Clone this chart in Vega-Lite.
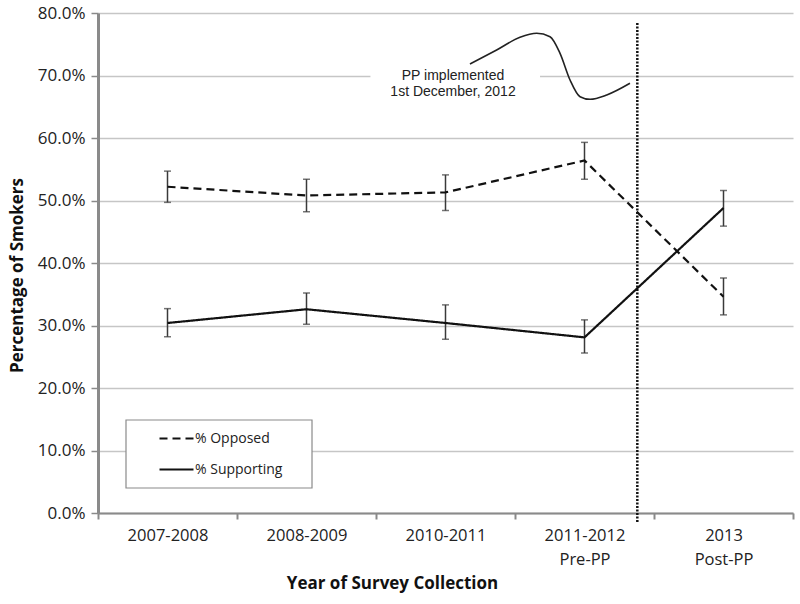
{
  "$schema": "https://vega.github.io/schema/vega-lite/v6.json",
  "width": 695,
  "height": 500,
  "autosize": {"type": "none"},
  "padding": {"left": 98, "top": 13, "right": 7, "bottom": 91},
  "background": "white",
  "config": {
    "view": {"stroke": null},
    "font": "Open Sans",
    "axis": {"labelColor": "#222", "titleColor": "#111"}
  },
  "datasets": {
    "series": [
      {"group": "% Opposed", "period": "2007-2008", "pos": 0.5, "pct": 52.2, "lo": 49.7, "hi": 54.7},
      {"group": "% Opposed", "period": "2008-2009", "pos": 1.5, "pct": 50.8, "lo": 48.2, "hi": 53.4},
      {"group": "% Opposed", "period": "2010-2011", "pos": 2.5, "pct": 51.3, "lo": 48.4, "hi": 54.1},
      {"group": "% Opposed", "period": "2011-2012 Pre-PP", "pos": 3.5, "pct": 56.4, "lo": 53.4, "hi": 59.3},
      {"group": "% Opposed", "period": "2013 Post-PP", "pos": 4.5, "pct": 34.6, "lo": 31.7, "hi": 37.6},
      {"group": "% Supporting", "period": "2007-2008", "pos": 0.5, "pct": 30.4, "lo": 28.2, "hi": 32.7},
      {"group": "% Supporting", "period": "2008-2009", "pos": 1.5, "pct": 32.6, "lo": 30.2, "hi": 35.2},
      {"group": "% Supporting", "period": "2010-2011", "pos": 2.5, "pct": 30.4, "lo": 27.8, "hi": 33.3},
      {"group": "% Supporting", "period": "2011-2012 Pre-PP", "pos": 3.5, "pct": 28.1, "lo": 25.6, "hi": 30.9},
      {"group": "% Supporting", "period": "2013 Post-PP", "pos": 4.5, "pct": 48.8, "lo": 45.9, "hi": 51.6}
    ],
    "legendbox": [{"pos": 0.2014, "pos2": 1.5396, "pct": 4.0, "pct2": 14.88}],
    "notebox": [{"pos": 1.96, "pos2": 3.18, "pct": 66.2, "pct2": 72.5}],
    "cutoff": [{"pos": 3.88, "pct": -1.44, "pct2": 78.56}],
    "curve": [
      {"pos": 2.676, "pct": 71.84},
      {"pos": 2.868, "pct": 74.08},
      {"pos": 3.036, "pct": 76.11},
      {"pos": 3.156, "pct": 76.75},
      {"pos": 3.252, "pct": 76.21},
      {"pos": 3.324, "pct": 73.55},
      {"pos": 3.396, "pct": 69.28},
      {"pos": 3.468, "pct": 66.61},
      {"pos": 3.54, "pct": 66.19},
      {"pos": 3.66, "pct": 66.88},
      {"pos": 3.827, "pct": 68.75}
    ],
    "note": [{"pos": 2.554, "pct": 69.92, "label": ["PP implemented", "1st December, 2012"]}]
  },
  "encoding": {
    "x": {
      "field": "pos",
      "type": "quantitative",
      "title": "Year of Survey Collection",
      "scale": {"domain": [0, 5], "nice": false, "zero": false},
      "axis": {
        "values": [0, 1, 2, 3, 4, 5],
        "labelExpr": "datum.value == 0 ? '2007-2008' : datum.value == 1 ? '2008-2009' : datum.value == 2 ? '2010-2011' : datum.value == 3 ? ['2011-2012', 'Pre-PP'] : datum.value == 4 ? ['2013', 'Post-PP'] : ''",
        "labelOffset": 69.5,
        "labelFlush": false,
        "labelOverlap": false,
        "labelBound": false,
        "labelFontSize": 16.5,
        "labelLineHeight": 24,
        "labelPadding": 8,
        "labelBaseline": "top",
        "grid": false,
        "domainColor": "#8a8a8a",
        "domainWidth": 2,
        "tickColor": "#8a8a8a",
        "tickWidth": 2,
        "tickSize": 6,
        "titleFontSize": 17,
        "titleFontWeight": "bold",
        "titleX": 294,
        "titleY": 70,
        "titleBaseline": "middle",
        "titleAnchor": null
      }
    },
    "y": {
      "field": "pct",
      "type": "quantitative",
      "title": "Percentage of Smokers",
      "scale": {"domain": [0, 80], "nice": false, "zero": true},
      "axis": {
        "values": [0, 10, 20, 30, 40, 50, 60, 70, 80],
        "labelExpr": "format(datum.value, '.1f') + '%'",
        "labelFontSize": 17,
        "labelPadding": 6,
        "grid": true,
        "gridColor": "#c6c6c6",
        "gridWidth": 1.5,
        "domainColor": "#8a8a8a",
        "domainWidth": 3,
        "tickColor": "#8a8a8a",
        "tickWidth": 1.5,
        "tickSize": 7,
        "titleFontSize": 17,
        "titleFontWeight": "bold",
        "titleX": -81,
        "titleY": 262,
        "titleAngle": -90,
        "titleAlign": "center",
        "titleBaseline": "middle"
      }
    }
  },
  "layer": [
    {
      "data": {"name": "legendbox"},
      "mark": {"type": "rect", "fill": "white", "stroke": "#8a8a8a", "strokeWidth": 1.2},
      "encoding": {"x2": {"field": "pos2"}, "y2": {"field": "pct2"}}
    },
    {
      "data": {"name": "notebox"},
      "mark": {"type": "rect", "fill": "white", "stroke": null},
      "encoding": {"x2": {"field": "pos2"}, "y2": {"field": "pct2"}}
    },
    {
      "data": {"name": "series"},
      "mark": {
        "type": "errorbar",
        "ticks": {"size": 7, "thickness": 1.5, "color": "#3a3a3a"},
        "rule": {"strokeWidth": 1.5, "color": "#3a3a3a"}
      },
      "encoding": {
        "y": {"field": "lo", "type": "quantitative", "title": "Percentage of Smokers"},
        "y2": {"field": "hi"}
      }
    },
    {
      "data": {"name": "series"},
      "mark": {"type": "line", "color": "#111", "strokeWidth": 2.2},
      "encoding": {
        "strokeDash": {
          "field": "group",
          "type": "nominal",
          "scale": {"domain": ["% Opposed", "% Supporting"], "range": [[8, 5], [1, 0]]},
          "legend": {
            "title": null,
            "orient": "none",
            "legendX": 60,
            "legendY": 407,
            "padding": 0,
            "symbolType": "stroke",
            "symbolSize": 1156,
            "symbolStrokeWidth": 2.2,
            "symbolStrokeColor": "#111",
            "labelFontSize": 14,
            "labelFont": "Open Sans",
            "labelColor": "#222",
            "labelOffset": 0,
            "rowPadding": 5
          }
        }
      }
    },
    {
      "data": {"name": "cutoff"},
      "mark": {"type": "rule", "color": "#111", "strokeWidth": 2.5, "strokeDash": [2, 1.5]},
      "encoding": {"y2": {"field": "pct2"}}
    },
    {
      "data": {"name": "curve"},
      "mark": {"type": "line", "color": "#222", "strokeWidth": 1.6, "interpolate": "monotone"},
      "encoding": {}
    },
    {
      "data": {"name": "note"},
      "mark": {"type": "text", "font": "Liberation Sans", "fontSize": 14, "color": "#222", "align": "center", "baseline": "middle", "lineHeight": 16},
      "encoding": {"text": {"field": "label"}}
    }
  ]
}
